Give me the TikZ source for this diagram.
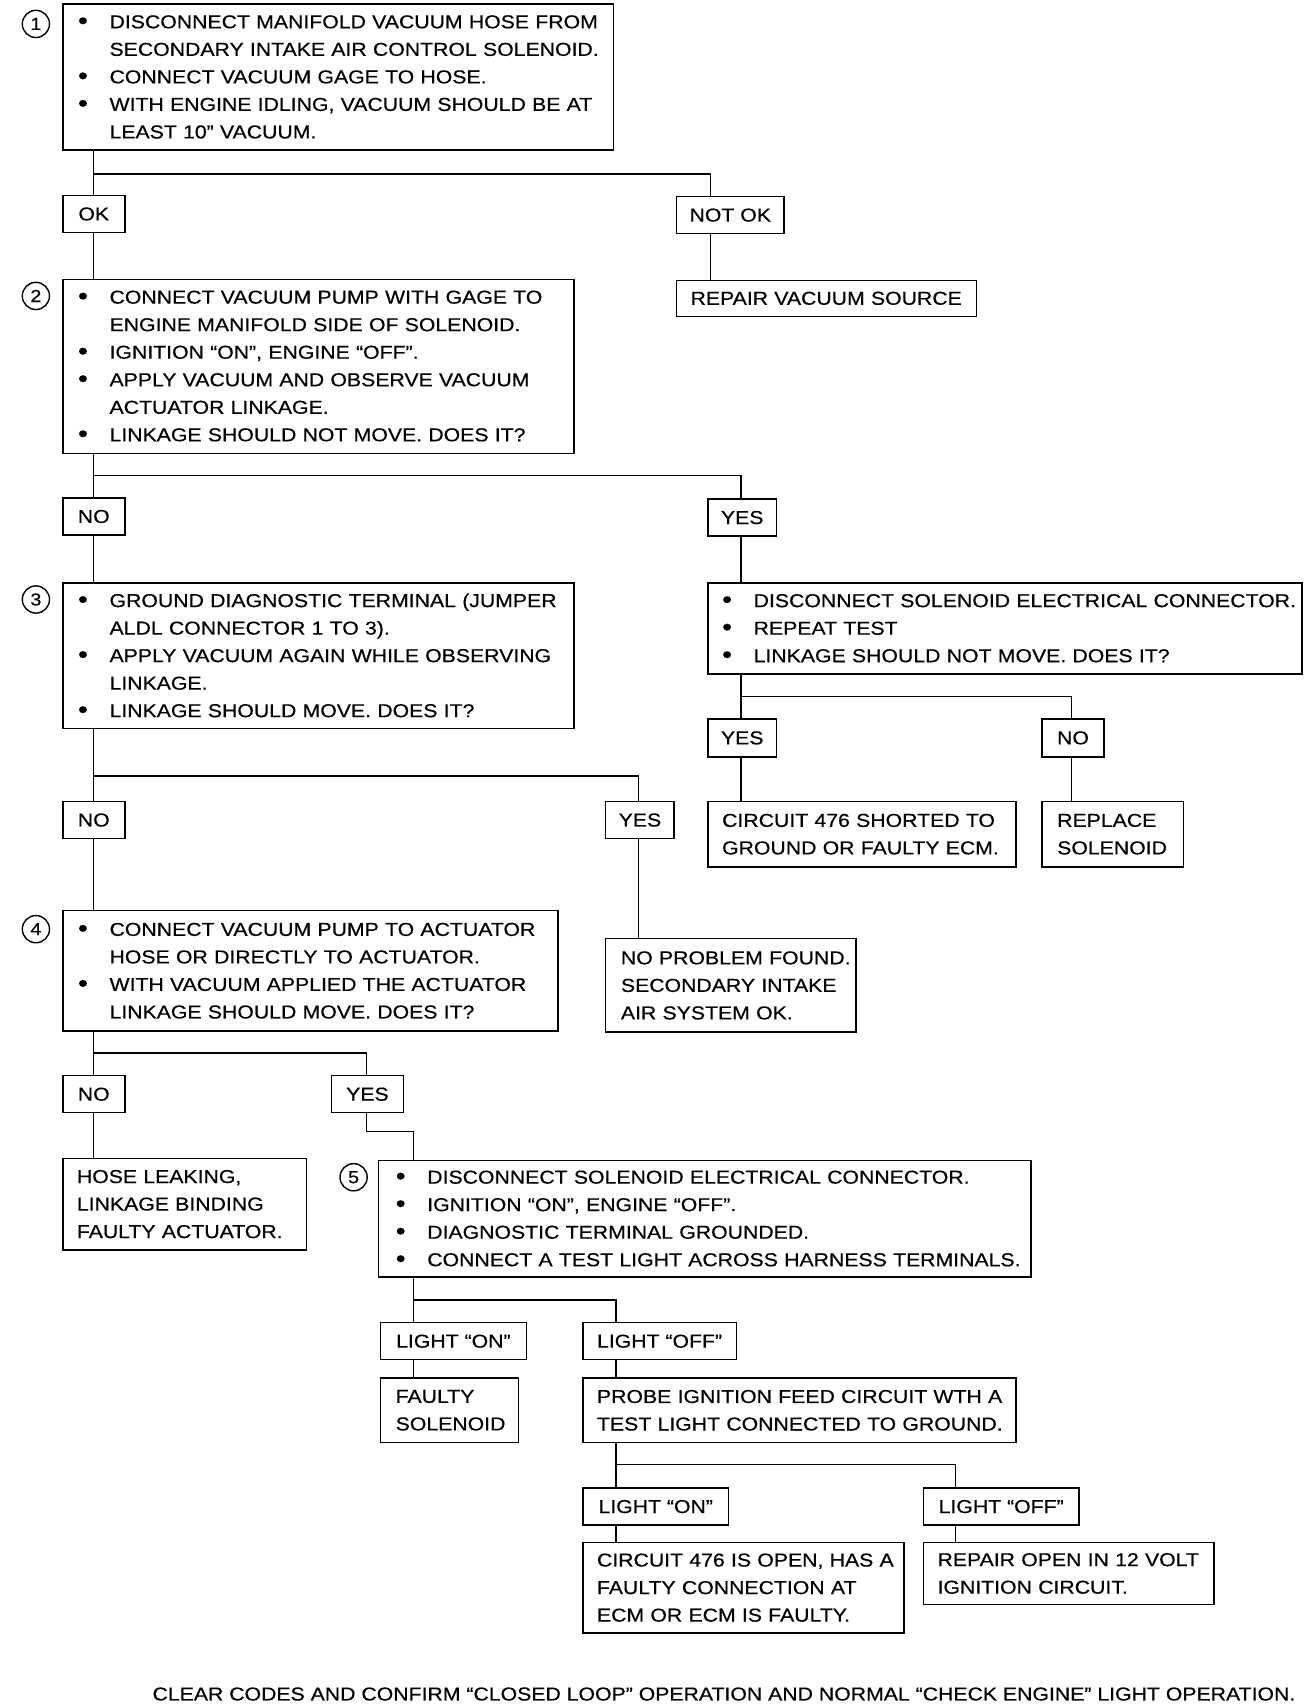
\documentclass[tikz,border=0pt]{standalone}
\usepackage{fontspec}
\setmainfont{Liberation Sans}[FakeStretch=1.135,FakeBold=0.4]
\newcommand\fs{\fontsize{17.2}{25.3}\selectfont}
\newcommand\bul{\raisebox{-0.08ex}{\fontsize{23}{25.3}\selectfont\textbullet}}
\newcommand\bl[1]{\makebox[29pt][l]{\bul}\mbox{#1}}
\newcommand\cl[1]{\hspace*{29pt}\mbox{#1}}
\newcommand\pl[1]{\mbox{#1}}
\tikzset{
  box/.style={draw, line width=1.4pt, anchor=north west, inner ysep=0pt, font=\fs, align=left},
  lbl/.style={draw, line width=1.4pt, anchor=north west, inner sep=0pt, font=\fs, align=center},
  wire/.style={line width=1.4pt},
  num/.style={circle, draw, line width=1.3pt, minimum size=25pt, inner sep=0pt, font=\fontsize{16}{16}\selectfont},
}
\newcommand\mkbox[7]{%
  \pgfmathsetmacro\bw{#4-#2}\pgfmathsetmacro\bh{#5-#3}\pgfmathsetmacro\tw{#4-#2-2*#6}%
  \node[box, inner xsep=#6pt, minimum width=\bw pt, minimum height=\bh pt, text width=\tw pt] (#1) at (#2,#3) {#7};}
\newcommand\mklbl[6]{%
  \pgfmathsetmacro\bw{#4-#2}\pgfmathsetmacro\bh{#5-#3}%
  \node[lbl, minimum width=\bw pt, minimum height=\bh pt] (#1) at (#2,#3) {#6};}
\begin{document}
\begin{tikzpicture}[x=1pt,y=-1pt]
\useasboundingbox[fill=white] (0,0) rectangle (1206,1568);

% step 1
\node[num] (n1) at (33,22) {1};
\mkbox{b1}{57}{3}{563}{137}{14}{\bl{DISCONNECT MANIFOLD VACUUM HOSE FROM}\\\cl{SECONDARY INTAKE AIR CONTROL SOLENOID.}\\\bl{CONNECT VACUUM GAGE TO HOSE.}\\\bl{WITH ENGINE IDLING, VACUUM SHOULD BE AT}\\\cl{LEAST 10” VACUUM.}}
\mklbl{ok}{57}{179}{114}{213}{OK}
\mklbl{notok}{621}{180}{720}{214}{NOT OK}
\mkbox{rep}{621}{257}{897}{290}{13}{\pl{REPAIR VACUUM SOURCE}}

% step 2
\node[num] (n2) at (33,272) {2};
\mkbox{b2}{57}{256}{527}{416}{14}{\bl{CONNECT VACUUM PUMP WITH GAGE TO}\\\cl{ENGINE MANIFOLD SIDE OF SOLENOID.}\\\bl{IGNITION “ON”, ENGINE “OFF”.}\\\bl{APPLY VACUUM AND OBSERVE VACUUM}\\\cl{ACTUATOR LINKAGE.}\\\bl{LINKAGE SHOULD NOT MOVE. DOES IT?}}
\mklbl{no2}{57}{457}{114}{491}{NO}
\mklbl{yes2}{650}{458}{713}{492}{YES}

% step 3
\node[num] (n3) at (33,551) {3};
\mkbox{b3}{57}{535}{527}{669}{14}{\bl{GROUND DIAGNOSTIC TERMINAL (JUMPER}\\\cl{ALDL CONNECTOR 1 TO 3).}\\\bl{APPLY VACUUM AGAIN WHILE OBSERVING}\\\cl{LINKAGE.}\\\bl{LINKAGE SHOULD MOVE. DOES IT?}}
\mkbox{b6}{650}{535}{1196}{619}{13}{\bl{DISCONNECT SOLENOID ELECTRICAL CONNECTOR.}\\\bl{REPEAT TEST}\\\bl{LINKAGE SHOULD NOT MOVE. DOES IT?}}
\mklbl{yes6}{650}{660}{713}{695}{YES}
\mklbl{no6}{957}{660}{1014}{695}{NO}
\mkbox{ckt}{650}{736}{933}{796}{13}{\pl{CIRCUIT 476 SHORTED TO}\\\pl{GROUND OR FAULTY ECM.}}
\mkbox{repl}{957}{736}{1087}{796}{14}{\pl{REPLACE}\\\pl{SOLENOID}}
\mklbl{no3}{57}{736}{114}{770}{NO}
\mklbl{yes3}{556}{736}{619}{770}{YES}
\mkbox{nop}{556}{862}{786}{948}{14}{\pl{NO PROBLEM FOUND.}\\\pl{SECONDARY INTAKE}\\\pl{AIR SYSTEM OK.}}

% step 4
\node[num] (n4) at (33,854) {4};
\mkbox{b4}{57}{836}{512}{947}{14}{\bl{CONNECT VACUUM PUMP TO ACTUATOR}\\\cl{HOSE OR DIRECTLY TO ACTUATOR.}\\\bl{WITH VACUUM APPLIED THE ACTUATOR}\\\cl{LINKAGE SHOULD MOVE. DOES IT?}}
\mklbl{no4}{57}{988}{114}{1022}{NO}
\mklbl{yes4}{304}{988}{370}{1022}{YES}
\mkbox{hose}{57}{1064}{281}{1148}{13}{\pl{HOSE LEAKING,}\\\pl{LINKAGE BINDING}\\\pl{FAULTY ACTUATOR.}}

% step 5
\node[num] (n5) at (325,1082) {5};
\mkbox{b5}{347}{1066}{947}{1173}{16}{\bl{DISCONNECT SOLENOID ELECTRICAL CONNECTOR.}\\\bl{IGNITION “ON”, ENGINE “OFF”.}\\\bl{DIAGNOSTIC TERMINAL GROUNDED.}\\\bl{CONNECT A TEST LIGHT ACROSS HARNESS TERMINALS.}}
\mklbl{lon}{349}{1215}{483}{1249}{LIGHT “ON”}
\mklbl{loff}{535}{1215}{676}{1249}{LIGHT “OFF”}
\mkbox{faulty}{349}{1266}{476}{1325}{14}{\pl{FAULTY}\\\pl{SOLENOID}}
\mkbox{probe}{535}{1266}{933}{1325}{13}{\pl{PROBE IGNITION FEED CIRCUIT WTH A}\\\pl{TEST LIGHT CONNECTED TO GROUND.}}
\mklbl{lon2}{535}{1367}{669}{1401}{LIGHT “ON”}
\mklbl{loff2}{848}{1367}{991}{1401}{LIGHT “OFF”}
\mkbox{c476}{535}{1417}{830}{1500}{13}{\pl{CIRCUIT 476 IS OPEN, HAS A}\\\pl{FAULTY CONNECTION AT}\\\pl{ECM OR ECM IS FAULTY.}}
\mkbox{ropen}{848}{1417}{1115}{1474}{13}{\pl{REPAIR OPEN IN 12 VOLT}\\\pl{IGNITION CIRCUIT.}}

\node[font=\fs, anchor=west, inner sep=0pt] (foot) at (140,1557) {CLEAR CODES AND CONFIRM “CLOSED LOOP” OPERATION AND NORMAL “CHECK ENGINE” LIGHT OPERATION.};

% junctions
\coordinate (j1) at (86,160);
\coordinate (j2) at (86,437);
\coordinate (j3) at (86,713);
\coordinate (j4) at (86,968);
\coordinate (j6) at (681,640);
\coordinate (j45) at (337,1040);
\coordinate (j5) at (380,1195);
\coordinate (j7) at (566,1346);

% connectors
\draw[wire] ([xshift=29pt]b1.south west) -- ([xshift=29pt]ok.north west);
\draw[wire] (j1) -| ([xshift=32pt]notok.north west);
\draw[wire] ([xshift=32pt]notok.south west) -- ([xshift=32pt]rep.north west);
\draw[wire] ([xshift=29pt]ok.south west) -- ([xshift=29pt]b2.north west);

\draw[wire] ([xshift=29pt]b2.south west) -- ([xshift=29pt]no2.north west);
\draw[wire] (j2) -| ([xshift=31pt]yes2.north west);
\draw[wire] ([xshift=29pt]no2.south west) -- ([xshift=29pt]b3.north west);
\draw[wire] ([xshift=31pt]yes2.south west) -- ([xshift=31pt]b6.north west);

\draw[wire] ([xshift=31pt]b6.south west) -- ([xshift=31pt]yes6.north west);
\draw[wire] (j6) -| ([xshift=28pt]no6.north west);
\draw[wire] ([xshift=31pt]yes6.south west) -- ([xshift=31pt]ckt.north west);
\draw[wire] ([xshift=28pt]no6.south west) -- ([xshift=28pt]repl.north west);

\draw[wire] ([xshift=29pt]b3.south west) -- ([xshift=29pt]no3.north west);
\draw[wire] (j3) -| ([xshift=31pt]yes3.north west);
\draw[wire] ([xshift=29pt]no3.south west) -- ([xshift=29pt]b4.north west);
\draw[wire] ([xshift=31pt]yes3.south west) -- ([xshift=31pt]nop.north west);

\draw[wire] ([xshift=29pt]b4.south west) -- ([xshift=29pt]no4.north west);
\draw[wire] (j4) -| ([xshift=33pt]yes4.north west);
\draw[wire] ([xshift=29pt]no4.south west) -- ([xshift=29pt]hose.north west);
\draw[wire] ([xshift=33pt]yes4.south west) -- (j45) -| ([xshift=33pt]b5.north west);

\draw[wire] ([xshift=33pt]b5.south west) -- ([xshift=31pt]lon.north west);
\draw[wire] (j5) -| ([xshift=31pt]loff.north west);
\draw[wire] ([xshift=31pt]lon.south west) -- ([xshift=31pt]faulty.north west);
\draw[wire] ([xshift=31pt]loff.south west) -- ([xshift=31pt]probe.north west);

\draw[wire] ([xshift=31pt]probe.south west) -- ([xshift=31pt]lon2.north west);
\draw[wire] (j7) -| ([xshift=30pt]loff2.north west);
\draw[wire] ([xshift=31pt]lon2.south west) -- ([xshift=31pt]c476.north west);
\draw[wire] ([xshift=30pt]loff2.south west) -- ([xshift=30pt]ropen.north west);
\end{tikzpicture}
\end{document}
